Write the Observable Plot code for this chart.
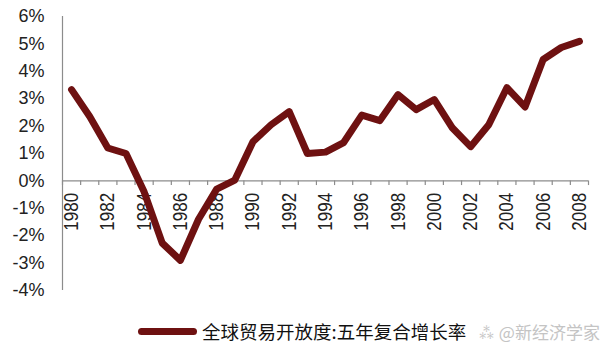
<!DOCTYPE html>
<html>
<head>
<meta charset="utf-8">
<script src="https://cdn.jsdelivr.net/npm/d3@7"></script>
<script src="https://cdn.jsdelivr.net/npm/@observablehq/plot@0.6"></script>
<style>
  html, body { margin: 0; padding: 0; background: #fff; }
  #wrap { width: 608px; height: 358px; position: relative; overflow: hidden; font-family: "Liberation Sans", Arial, sans-serif; }
  #legend { position: absolute; left: 0; top: 310px; width: 608px; height: 48px; }
  #legend .swatch { position: absolute; left: 138px; top: 18px; width: 59px; height: 7px; border-radius: 4px; background: #6e1111; }
  #legend .label { position: absolute; left: 202px; top: 9px; font-family: "Noto Sans CJK SC", sans-serif; font-size: 18.5px; line-height: 24px; color: #111; white-space: nowrap; }
  #legend .wm { position: absolute; left: 478px; top: 11px; font-family: "Noto Sans CJK SC", sans-serif; font-size: 17px; line-height: 22px; color: #c4c4c4; white-space: nowrap; }
</style>
</head>
<body>
<div id="wrap">
  <div id="chart"></div>
  <div id="legend">
    <div class="swatch"></div>
    <div class="label" id="seriesLabel"></div>
    <div class="wm" id="watermark"></div>
  </div>
</div>
<script>
const years = [1980,1981,1982,1983,1984,1985,1986,1987,1988,1989,1990,1991,1992,1993,1994,1995,1996,1997,1998,1999,2000,2001,2002,2003,2004,2005,2006,2007,2008];
const growth = [3.33,2.35,1.20,1.00,-0.40,-2.27,-2.90,-1.40,-0.30,0.03,1.43,2.05,2.53,1.00,1.05,1.40,2.40,2.20,3.15,2.60,2.97,1.93,1.25,2.05,3.40,2.70,4.43,4.87,5.09];
const yTicks = [-4,-3,-2,-1,0,1,2,3,4,5,6];
const xLabelYears = [1980,1982,1984,1986,1988,1990,1992,1994,1996,1998,2000,2002,2004,2006,2008];
const seriesName = "全球贸易开放度:五年复合增长率";
const watermark = "\u2042 @新经济学家";

const data = years.map((y, i) => ({year: y, value: growth[i]}));
const boundaries = years.map(y => y - 0.5).concat([years[years.length - 1] + 0.5]);
const lineColor = "#6e1111";
const axisColor = "#8c8c8c";

const chart = Plot.plot({
  width: 608,
  height: 310,
  marginLeft: 62,
  marginRight: 20,
  marginTop: 16,
  marginBottom: 20,
  style: {fontFamily: "'Liberation Sans', Arial, sans-serif", background: "#fff"},
  x: {domain: [years[0] - 0.5, years[years.length - 1] + 0.5], axis: null},
  y: {domain: [yTicks[0], yTicks[yTicks.length - 1]], axis: null},
  marks: [
    Plot.ruleX([years[0] - 0.5], {stroke: axisColor, strokeWidth: 1.2}),
    Plot.ruleY([0], {stroke: axisColor, strokeWidth: 1.2}),
    Plot.ruleX(boundaries, {y1: 0, y2: -0.17, stroke: axisColor, strokeWidth: 1.2}),
    Plot.axisY(yTicks, {
      tickSize: 0, tickPadding: 18, fontSize: 18, fill: "#222",
      tickFormat: d => d + "%", label: null
    }),
    Plot.text(xLabelYears, {
      x: d => d, y: () => 0, text: d => String(d),
      rotate: -90, textAnchor: "end", fontSize: 17, fill: "#222"
    }),
    Plot.line(data, {
      x: "year", y: "value", stroke: lineColor, strokeWidth: 7,
      strokeLinejoin: "round", strokeLinecap: "round"
    })
  ]
});
// year labels sit a little below the axis, with widened glyphs as in the reference
const yearSet = new Set(xLabelYears.map(String));
const yearTexts = Array.from(chart.querySelectorAll("text")).filter(t => yearSet.has(t.textContent.trim()));
if (yearTexts.length) {
  const parent = yearTexts[0].parentNode;
  const pt = parent.getAttribute("transform") || "";
  parent.setAttribute("transform", "translate(0,12) " + pt);
  yearTexts.forEach(t => {
    const tt = t.getAttribute("transform");
    if (tt && tt.indexOf("rotate") >= 0) t.setAttribute("transform", tt + " scale(1,1.2)");
  });
}
document.getElementById("chart").appendChild(chart);
document.getElementById("seriesLabel").textContent = seriesName;
document.getElementById("watermark").textContent = watermark;
</script>
</body>
</html>
